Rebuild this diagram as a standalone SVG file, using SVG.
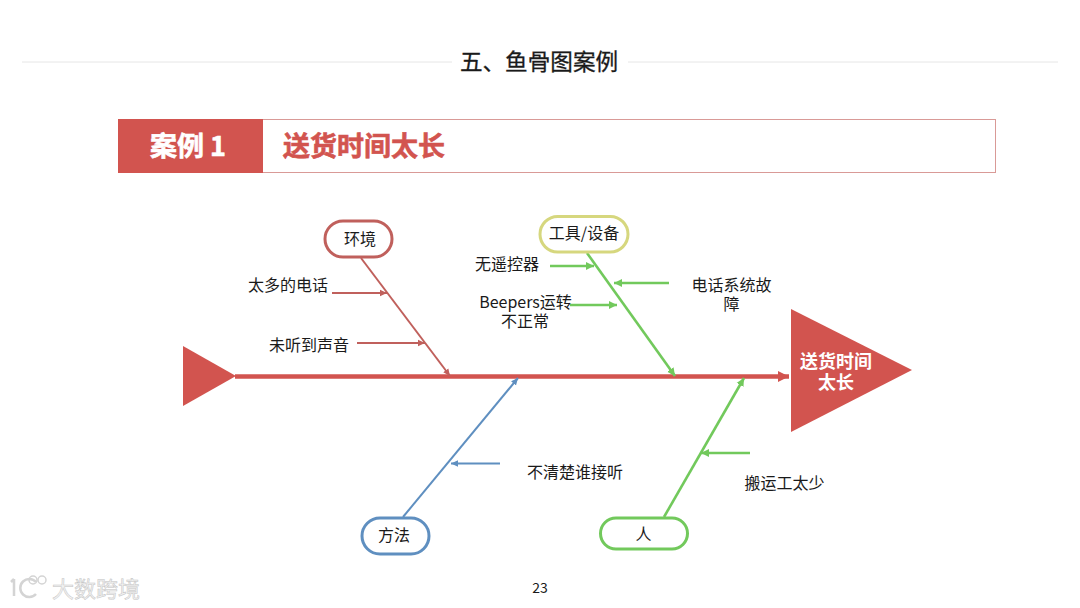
<svg xmlns="http://www.w3.org/2000/svg" width="1080" height="608" viewBox="0 0 1080 608">
<style>
text{font-family:"Noto Sans CJK SC","Noto Sans",sans-serif;text-anchor:middle;fill:#1a1a1a}
.lb{font-size:16px}
.pill{fill:#fff;stroke-width:3}
.r{stroke:#c0605c;fill:none;stroke-width:2}
.g{stroke:#72c95c;fill:none;stroke-width:2.600}
.b{stroke:#5f8fc0;fill:none;stroke-width:2}
.w{font-weight:700;fill:#fff}
.wm{font-size:22px;fill:#f2f2f2;stroke:#c4c4c4;stroke-width:.5}
</style>
<defs>
<marker id="mr" markerUnits="userSpaceOnUse" markerWidth="8" markerHeight="8" refX="7" refY="4" orient="auto"><path d="M0 0.8L7 4L0 7.2z" fill="#c0605c"/></marker>
<marker id="mg" markerUnits="userSpaceOnUse" markerWidth="9" markerHeight="10" refX="8" refY="5" orient="auto"><path d="M0 1L8 5L0 9z" fill="#72c95c"/></marker>
<marker id="mb" markerUnits="userSpaceOnUse" markerWidth="8" markerHeight="8" refX="7" refY="4" orient="auto"><path d="M0 0.8L7 4L0 7.2z" fill="#5f8fc0"/></marker>
<marker id="ms" markerUnits="userSpaceOnUse" markerWidth="12" markerHeight="14" refX="11" refY="7" orient="auto"><path d="M0 1.5L11 7L0 12.5z" fill="#d2544f"/></marker>
</defs>
<rect width="1080" height="608" fill="#fff"/>
<g id="title">
<path d="M22 62H452M628 62H1058" stroke="#e6e6e6" stroke-width="1" fill="none"/>
<text x="539" y="70" font-size="22.600" stroke="#1a1a1a" stroke-width=".3">五、鱼骨图案例</text>
</g>
<g id="banner">
<rect x="118.500" y="119.500" width="877" height="53" fill="#fff" stroke="#d99a97" stroke-width="1"/>
<rect x="118" y="119" width="145" height="54" fill="#d2544f"/>
<text class="w" x="188" y="156" font-size="27" stroke="#fff" stroke-width=".6">案例 1</text>
<text x="364" y="156" font-size="27" font-weight="700" style="fill:#d2544f" stroke="#d2544f" stroke-width=".6">送货时间太长</text>
</g>
<g id="connectors">
<path d="M235 376.500H789" stroke="#d2544f" stroke-width="4.500" fill="none" marker-end="url(#ms)"/>
<path class="r" d="M361 258L450 376" marker-end="url(#mr)"/>
<path class="r" d="M332 293H387" marker-end="url(#mr)"/>
<path class="r" d="M357 343H425" marker-end="url(#mr)"/>
<path class="g" d="M587 253L675 376" marker-end="url(#mg)"/>
<path class="g" d="M550 266H594" marker-end="url(#mg)"/>
<path class="g" d="M669 283H614" marker-end="url(#mg)"/>
<path class="g" d="M570 305H617" marker-end="url(#mg)"/>
<path class="b" d="M403 517L518 378" marker-end="url(#mb)"/>
<path class="b" d="M500 463.500H451" marker-end="url(#mb)"/>
<path class="g" d="M664 517L744 378" marker-end="url(#mg)"/>
<path class="g" d="M750 453H701" marker-end="url(#mg)"/>
</g>
<g id="tail"><path d="M183 346L236 376L183 406z" fill="#d2544f"/></g>
<g id="head">
<path d="M791 309L912 370L791 432z" fill="#d2544f"/>
<text class="w" font-size="18"><tspan x="836" y="368">送货时间</tspan><tspan x="836" y="389">太长</tspan></text>
</g>
<g id="node-env"><rect class="pill" x="325" y="221" width="67" height="36" rx="18" stroke="#c0605c"/><text class="lb" x="360" y="245">环境</text></g>
<g id="node-tool"><rect class="pill" x="540" y="216.500" width="88" height="35.500" rx="17.700" stroke="#d6d77e"/><text class="lb" x="584" y="239">工具/设备</text></g>
<g id="node-method"><rect class="pill" x="362" y="518" width="67" height="36" rx="18" stroke="#5f8fc0"/><text class="lb" x="394" y="541">方法</text></g>
<g id="node-person"><rect class="pill" x="600.500" y="518" width="87" height="31" rx="15.500" stroke="#72c95c"/><text class="lb" x="643.500" y="540">人</text></g>
<g id="labels">
<text class="lb" x="288" y="291">太多的电话</text>
<text class="lb" x="309" y="351">未听到声音</text>
<text class="lb" x="507" y="270">无遥控器</text>
<text class="lb"><tspan x="525.500" y="308">Beepers运转</tspan><tspan x="525" y="327">不正常</tspan></text>
<text class="lb"><tspan x="731.500" y="291">电话系统故</tspan><tspan x="731.500" y="310">障</tspan></text>
<text class="lb" x="575" y="478">不清楚谁接听</text>
<text class="lb" x="784.500" y="489">搬运工太少</text>
<text x="540" y="593" font-size="14">23</text>
</g>
<g id="watermark">
<path d="M14 579L11 582M14 579V596M36 582A9 9 0 1 0 36 594" fill="none" stroke="#d4d4d4" stroke-width="2.500"/>
<circle cx="33" cy="580" r="4" fill="none" stroke="#d4d4d4" stroke-width="1.500"/>
<circle cx="42" cy="580" r="4" fill="none" stroke="#d4d4d4" stroke-width="1.500"/>
<text class="wm" x="96" y="597">大数跨境</text>
</g>
</svg>
